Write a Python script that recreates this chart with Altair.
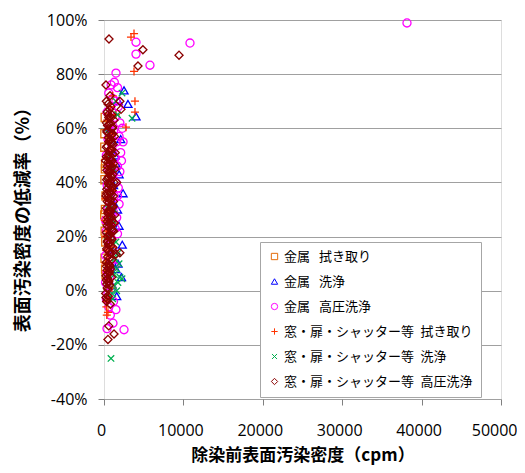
import altair as alt
import pandas as pd

# ---- data ----
series_names = [
    "金属\u2002\u2009拭き取り",
    "金属\u2002\u2009洗浄",
    "金属\u2002\u2009高圧洗浄",
    "窓・扉・シャッター等\u2002拭き取り",
    "窓・扉・シャッター等\u2002洗浄",
    "窓・扉・シャッター等\u2002高圧洗浄",
]

metal_wipe = [(150, 64), (100, 53), (200, 47), (120, 41), (250, 35), (180, 30), (90, 28), (300, 26),
              (150, 22), (220, 18), (130, 12), (260, 6), (170, 45), (110, 58), (200, 8)]

metal_wash = [(2520, 74), (3020, 69), (4030, 64.4), (2400, 36), (1890, 24), (1760, 10), (2100, 56),
              (1500, 47), (1200, 39), (1700, 30), (900, 20), (1300, 15), (2200, 5), (1000, 2),
              (1600, -2), (800, 60), (1400, 50), (1900, 43), (1100, 33), (700, 26), (1500, 8),
              (1800, 70), (2300, 17)]

metal_hp = [(38160, 98.9), (4030, 91.8), (4030, 87.4), (10830, 91.5), (5790, 83.3), (1510, 80.4),
            (1500, -7), (1130, -12), (2520, -14.4), (380, -14), (800, -9),
            (1300, 77), (900, 76), (1700, 75), (600, 73), (1100, 71), (1800, 68), (400, 66),
            (1400, 64), (2000, 62), (700, 61), (1200, 59), (1900, 57), (500, 56), (1600, 55),
            (1000, 53), (2100, 51), (300, 50), (1400, 49), (800, 47), (1700, 46), (600, 45),
            (2000, 44), (1100, 42), (1500, 40), (400, 39), (1800, 38), (900, 36), (1300, 35),
            (700, 33), (1900, 32), (500, 30), (1200, 29), (1600, 27), (200, 26), (1000, 25),
            (1400, 23), (300, 22), (1700, 21), (800, 19), (600, 17), (1100, 15), (200, 13),
            (900, 11), (1300, 9), (400, 7), (700, 5), (200, 3), (1000, 1), (500, -1), (300, -3),
            (1200, -4), (600, -6), (2300, 60), (2200, 48), (1500, 70), (1000, 66), (2400, 55),
            (1700, 35)]

window_wipe = [(3400, 93.7), (3780, 95), (3780, 81), (3900, 70), (3900, 66), (2770, 60.4), (500, -8),
               (300, -6), (1100, 72), (800, 68), (1500, 65), (400, 63), (1200, 58), (600, 55),
               (1000, 52), (300, 49), (1300, 46), (700, 43), (500, 40), (1100, 37), (200, 34),
               (900, 31), (600, 28), (1400, 25), (300, 22), (800, 19), (1100, 16), (500, 13),
               (200, 10), (700, 7), (400, 4), (1000, 1), (600, -2), (300, -4), (150, 20),
               (250, 15), (100, 26), (350, -9)]

window_wash = [(2270, 73), (3530, 63.7), (2000, 5), (1760, 3), (2270, 4.4), (880, -25), (1600, 8),
               (1400, 12), (1900, 10), (1200, 2), (1000, -1), (1300, 6), (800, 15), (1500, 18),
               (700, 22), (1100, 26), (600, 30), (900, 35), (500, 40), (1200, 45), (800, 50),
               (1000, 55), (600, 58), (1700, 65), (1500, 70), (400, 20), (1100, -3), (1600, 0),
               (1800, 14), (1300, 30)]

window_hp = [(630, 93), (4900, 89), (9450, 87), (4280, 83), (250, 76), (760, 72), (2000, 70),
             (880, 68), (2140, 67), (520, 65), (1250, 63), (700, 61.5), (1050, 60), (380, 58.5),
             (1320, 57), (820, 56), (600, 55), (1150, 54), (300, 53), (950, 52), (1420, 51),
             (480, 50), (720, 49), (1000, 48), (1200, 47), (420, 46), (830, 45), (610, 44),
             (1120, 43), (900, 42), (330, 41), (1280, 40), (690, 39), (520, 38), (1030, 37),
             (790, 36), (1190, 35), (580, 34), (410, 33), (930, 32), (1100, 31), (670, 30),
             (500, 29), (1350, 28), (810, 27), (990, 26), (620, 25), (390, 24), (870, 23),
             (1230, 22), (710, 21), (470, 20), (1010, 19), (780, 18), (560, 17), (1130, 16),
             (420, 15), (940, 14), (1520, 13.5), (680, 12), (2000, 14), (530, 10), (310, 9),
             (820, 8), (650, 7), (430, 6), (960, 5), (290, 4), (540, 3), (720, 2), (400, 1),
             (210, -1), (520, -2), (330, -4), (800, -5), (1260, -16), (500, -18), (600, -13),
             (1000, 38), (850, 44), (450, 27), (1150, 31), (700, 50), (350, 36), (950, 55),
             (1080, 22), (640, 47), (1200, 33), (560, 42), (760, 29), (300, 62), (900, 64),
             (1400, 45), (250, 35), (1600, 40), (200, 48), (1100, 58), (400, 18), (1300, 25),
             (750, 9),
             (300, 70), (500, 69), (700, 67), (400, 66), (1000, 65), (600, 64), (800, 62),
             (450, 61), (1100, 60.5), (350, 59), (650, 58), (950, 57.5), (550, 56.5), (750, 55.5),
             (1000, 54.5), (400, 53.5), (850, 52.5), (600, 51.5), (1100, 50.5), (300, 49.5),
             (900, 48.5), (500, 47.5), (750, 46.5), (1000, 45.5), (350, 44.5), (650, 43.5),
             (900, 42.5), (450, 41.5), (800, 40.5), (550, 39.5), (1050, 38.5), (350, 37.5),
             (700, 36.5), (950, 35.5), (450, 34.5), (800, 33.5), (600, 32.5), (1000, 31.5),
             (300, 30.5), (750, 29.5), (500, 28.5), (900, 27.5), (650, 26.5), (400, 25.5),
             (850, 24.5), (550, 23.5), (1050, 22.5), (300, 21.5), (700, 20.5), (900, 19.5),
             (450, 18.5), (650, 17.5), (850, 16.5), (350, 15.5), (600, 14.5), (800, 13.5),
             (450, 12.5), (1000, 11.5), (300, 10.5), (700, 9.5), (550, 8.5), (400, 7.5),
             (650, 6.5), (250, 5.5), (450, 4.5), (600, 3.5), (350, 2.5), (500, 0.5),
             (250, -2.5), (400, -3)]

x_ticks = [0, 10000, 20000, 30000, 40000, 50000]
y_ticks = [-40, -20, 0, 20, 40, 60, 80, 100]

colors = ["#E46C0A", "#0000FF", "#FF00FF", "#FF3300", "#00B050", "#8B0000"]
shapes = ["square", "triangle-up", "circle",
          "M-1,0L1,0M0,-1L0,1",
          "M-0.8,-0.8L0.8,0.8M-0.8,0.8L0.8,-0.8",
          "diamond"]

rows = []
for k, (name, pts) in enumerate(zip(series_names, [metal_wipe, metal_wash, metal_hp,
                                                   window_wipe, window_wash, window_hp])):
    for xv, yv in pts:
        rows.append({"series": name, "idx": k, "x": xv, "y": yv})
df = pd.DataFrame(rows)

label_font = "Open Sans"
cjk = "Noto Sans CJK JP"

legend = alt.Legend(
    title=None, orient="none", legendX=156, legendY=222,
    padding=8, strokeColor="#a6a6a6", fillColor="white",
    labelFont=cjk, labelFontSize=13, labelColor="#000", labelLimit=400,
    rowPadding=11, symbolSize=40, symbolStrokeWidth=1, labelOffset=3,
)

chart = alt.Chart(df).mark_point(filled=False, strokeWidth=1.3, size=65, opacity=1).encode(
    x=alt.X("x:Q",
            scale=alt.Scale(domain=[0, 50000], nice=False, zero=False),
            axis=alt.Axis(values=x_ticks, grid=False, domain=False, format="d",
                          title="除染前表面汚染密度（cpm）",
                          titleFont=cjk, titleFontSize=17, titleFontWeight="bold",
                          titleColor="#000", titleY=48,
                          labelFont=label_font, labelFontSize=16, labelColor="#000",
                          labelPadding=17, tickSize=6, tickColor="#808080",
                          labelAlign={"condition": {"test": "datum.value == 50000", "value": "right"},
                                      "value": "center"},
                          labelOffset={"condition": {"test": "datum.value == 50000", "value": 16},
                                       "value": -3})),
    y=alt.Y("y:Q",
            scale=alt.Scale(domain=[-40, 100], nice=False, zero=False),
            axis=alt.Axis(values=y_ticks, grid=True, gridColor="#a0a0a0", gridWidth=1,
                          domain=False, labelExpr="datum.value + '%'",
                          title="表面汚染密度の低減率（%）",
                          titleFont=cjk, titleFontSize=18, titleFontWeight="bold",
                          titleColor="#000", titleX=-72, titleY=195,
                          labelFont=label_font, labelFontSize=16, labelColor="#000",
                          labelPadding=11, tickSize=6, tickColor="#808080")),
    color=alt.Color("series:N", scale=alt.Scale(domain=series_names, range=colors), legend=legend),
    shape=alt.Shape("series:N", scale=alt.Scale(domain=series_names, range=shapes), legend=legend),
    order=alt.Order("idx:Q"),
).properties(
    width=397, height=379,
    autosize=alt.AutoSizeParams(type="none"),
    padding={"left": 96, "top": 12, "right": 16, "bottom": 66},
).configure_view(
    stroke="#7a7a7a", strokeWidth=2
).configure(background="white")

chart.save("out.html", embed_options={"renderer": "svg", "actions": False})
